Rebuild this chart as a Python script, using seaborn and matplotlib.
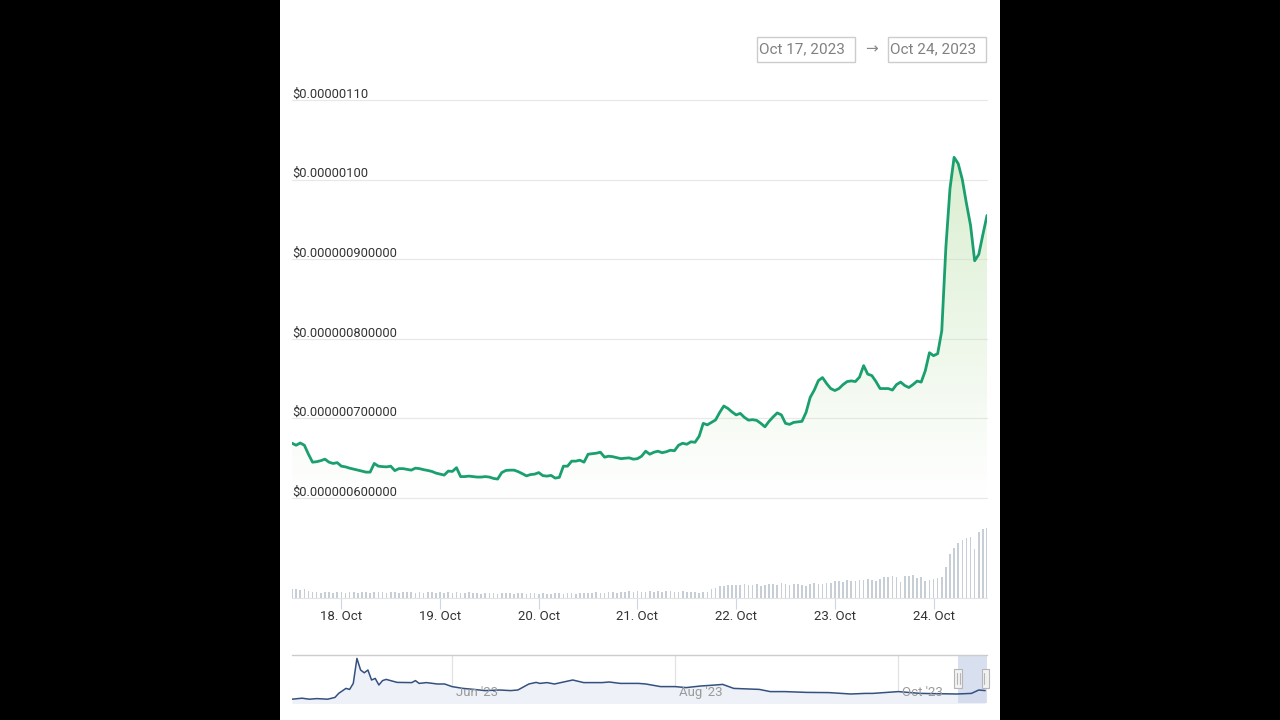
import numpy as np
import pandas as pd
import matplotlib
matplotlib.use('Agg')
import matplotlib.pyplot as plt
import matplotlib.dates as mdates
import seaborn as sns
from matplotlib.patches import Rectangle

# hourly price, in units of 1e-9 USD (Oct 17 12:00 -> Oct 24 13:00)
price_nano = [
    668.8, 666.3, 669.1, 666.3, 655.0, 645.0, 645.6, 646.9, 648.8, 645.0,
    643.4, 644.4, 640.0, 639.1, 637.5, 636.3, 635.0, 633.8, 632.5, 632.5,
    643.4, 640.0, 639.4, 639.1, 640.0, 634.4, 636.9, 636.9, 635.9, 635.0,
    637.5, 636.9, 635.6, 634.6, 633.4, 631.3, 630.0, 628.8, 633.8, 633.4,
    638.1, 626.9, 626.9, 627.5, 626.9, 626.3, 626.3, 626.9, 626.3, 624.6,
    623.8, 631.9, 634.6, 635.0, 635.0, 633.1, 630.6, 627.8, 629.4, 630.0,
    631.9, 628.1, 627.5, 628.4, 625.0, 625.9, 640.0, 640.0, 646.3, 646.3,
    647.5, 645.0, 655.0, 655.6, 656.3, 657.5, 651.3, 652.5, 651.9, 650.6,
    649.4, 650.0, 650.4, 648.8, 649.4, 652.5, 658.8, 655.0, 657.5, 658.8,
    656.9, 658.1, 660.0, 659.4, 666.3, 668.8, 667.5, 670.6, 670.0, 677.5,
    693.8, 691.9, 695.0, 698.1, 707.5, 715.6, 712.5, 708.1, 704.4, 706.3,
    701.3, 697.8, 698.4, 697.5, 693.8, 689.4, 696.3, 701.9, 706.9, 704.4,
    693.8, 692.5, 695.0, 695.6, 696.3, 707.5, 726.3, 735.6, 747.5, 751.3,
    743.8, 737.5, 735.0, 737.5, 742.5, 746.3, 747.1, 746.3, 751.9, 766.3,
    755.6, 753.8, 746.3, 737.5, 737.5, 737.5, 735.6, 742.5, 745.6, 741.3,
    738.8, 742.5, 746.9, 745.6, 760.0, 782.5, 778.8, 781.3, 810.0, 915.0,
    988.8, 1028.0, 1020.0, 1000.0, 970.0, 942.5, 898.0, 906.0, 931.0, 955.0,
]

# hourly volume (relative units)
volume = [
    9, 9, 8, 9, 7, 6, 6, 5, 6, 6, 5, 6,
    6, 5, 6, 6, 5, 6, 6, 5, 6, 6, 6, 5, 6, 6, 5, 6, 6, 6, 5, 6, 5, 6, 6, 5,
    6, 5, 6, 5, 6, 5, 5, 6, 5, 5, 4, 5, 5, 5, 4, 5, 5, 5, 4, 5, 5, 4, 5, 5,
    4, 5, 4, 4, 5, 5, 4, 5, 5, 4, 5, 5, 5, 5, 6, 5, 5, 6, 6, 5, 6, 6, 7, 6,
    7, 6, 6, 7, 6, 7, 6, 7, 7, 6, 6, 7, 6, 6, 6, 5, 6, 6, 9, 10, 12, 12, 13, 13,
    13, 13, 14, 13, 13, 14, 12, 13, 14, 14, 13, 15, 14, 13, 14, 14, 13, 12, 14, 15, 14, 14, 15, 15,
    17, 17, 16, 18, 17, 17, 18, 18, 19, 18, 17, 19, 21, 21, 22, 21, 16, 22, 22, 23, 20, 21, 17, 18,
    19, 20, 21, 31, 44, 50, 55, 58, 60, 61, 49, 66, 69, 70,
]

price_ticks = [0.6e-6, 0.7e-6, 0.8e-6, 0.9e-6, 1.0e-6, 1.1e-6]
price_labels = ['$0.000000600000', '$0.000000700000', '$0.000000800000',
                '$0.000000900000', '$0.00000100', '$0.00000110']
day_ticks = ['2023-10-18', '2023-10-19', '2023-10-20', '2023-10-21',
             '2023-10-22', '2023-10-23', '2023-10-24']
day_labels = ['18. Oct', '19. Oct', '20. Oct', '21. Oct', '22. Oct', '23. Oct', '24. Oct']

# navigator (long range) series, USD 1e-6 scale
nav_dates = ['2023-04-18 06:00', '2023-04-21', '2023-04-23', '2023-04-25', '2023-04-28',
             '2023-04-30', '2023-05-01', '2023-05-03', '2023-05-04', '2023-05-05',
             '2023-05-06', '2023-05-07', '2023-05-08', '2023-05-09', '2023-05-10',
             '2023-05-11', '2023-05-12', '2023-05-13', '2023-05-14', '2023-05-17',
             '2023-05-21', '2023-05-22', '2023-05-23', '2023-05-25', '2023-05-28',
             '2023-05-30', '2023-06-01', '2023-06-04', '2023-06-07', '2023-06-10',
             '2023-06-14', '2023-06-17', '2023-06-19', '2023-06-22', '2023-06-24',
             '2023-06-25', '2023-06-27', '2023-06-29', '2023-07-02', '2023-07-04',
             '2023-07-07', '2023-07-12', '2023-07-14', '2023-07-17', '2023-07-22',
             '2023-07-24', '2023-07-28', '2023-08-01', '2023-08-04', '2023-08-08',
             '2023-08-12', '2023-08-14', '2023-08-17', '2023-08-24', '2023-08-27',
             '2023-08-31', '2023-09-06', '2023-09-12', '2023-09-18', '2023-09-22',
             '2023-09-24', '2023-10-01', '2023-10-07', '2023-10-17', '2023-10-21',
             '2023-10-23', '2023-10-24 18:00']
nav_values = [0.34, 0.39, 0.34, 0.37, 0.34, 0.43, 0.63, 0.88, 0.83, 1.13,
              2.38, 1.80, 1.66, 1.80, 1.30, 1.38, 1.05, 1.27, 1.33, 1.18,
              1.17, 1.27, 1.13, 1.17, 1.10, 1.10, 0.97, 0.88, 0.83, 0.77,
              0.80, 0.77, 0.80, 1.10, 1.18, 1.13, 1.17, 1.10, 1.22, 1.30,
              1.17, 1.17, 1.20, 1.13, 1.13, 1.10, 0.97, 0.97, 0.92, 1.00,
              1.05, 1.08, 0.88, 0.83, 0.72, 0.72, 0.68, 0.67, 0.60, 0.63,
              0.63, 0.72, 0.63, 0.60, 0.63, 0.80, 0.77]
nav_month_ticks = ['2023-06-01', '2023-08-01', '2023-10-01']
nav_month_labels = ["Jun '23", "Aug '23", "Oct '23"]

sns.set_theme(style='white')
plt.rcParams['font.family'] = ['Roboto', 'DejaVu Sans']

W, H = 1280, 720
times = pd.date_range('2023-10-17 12:00', periods=len(price_nano), freq='h')
prices = np.array(price_nano) * 1e-9
df = pd.DataFrame({'time': times, 'price': prices, 'volume': volume})

fig = plt.figure(figsize=(12.8, 7.2), dpi=100, facecolor='black')
fig.patches.append(Rectangle((280 / W, 0), 720 / W, 1, transform=fig.transFigure,
                             facecolor='white', edgecolor='none', zorder=-10))

def fax(x0, y_top, x1, y_bot):
    return fig.add_axes([x0 / W, (H - y_bot) / H, (x1 - x0) / W, (y_bot - y_top) / H])

# --- price panel ---
ax = fax(292, 100, 987, 498)
ax.set_facecolor('none')
sns.lineplot(data=df, x='time', y='price', ax=ax, color='#1a9f6e', lw=2.0, zorder=4)

# gradient fill below the line
xnum = mdates.date2num(times)
fill = ax.fill_between(times, prices, 0.6e-6, facecolor='none', edgecolor='none')
grad = np.zeros((256, 1, 4))
grad[..., 0], grad[..., 1], grad[..., 2] = 0.78, 0.90, 0.72
grad[:, 0, 3] = np.linspace(0.0, 0.75, 256)
im = ax.imshow(grad, extent=[xnum[0], xnum[-1], 0.6e-6, 1.1e-6], origin='lower',
               aspect='auto', zorder=2, interpolation='bilinear')
im.set_clip_path(fill.get_paths()[0], transform=ax.transData)

ax.set_xlim(times[0], times[-1])
ax.set_ylim(0.6e-6, 1.1e-6)
for v, lab in zip(price_ticks, price_labels):
    ax.axhline(v, color='#e8e8e8', lw=0.9, zorder=1, clip_on=False)
    ax.annotate(lab, xy=(0, v), xycoords=('axes fraction', 'data'), xytext=(0, -0.5),
                textcoords='offset points', ha='left', va='bottom',
                fontsize=9.3, color='#333333', annotation_clip=False)
ax.set_xticks([])
ax.set_yticks([])
ax.set_xlabel('')
ax.set_ylabel('')
for s in ax.spines.values():
    s.set_visible(False)

# --- volume panel ---
axv = fax(292, 505, 987, 598)
axv.set_facecolor('none')
axv.bar(df['time'], df['volume'], width=0.4 / 24, color='#c8ced6', linewidth=0)
axv.set_xlim(times[0], times[-1])
axv.set_ylim(0, 93)
axv.set_yticks([])
axv.set_xticks(pd.to_datetime(day_ticks))
axv.set_xticklabels(day_labels)
axv.tick_params(axis='x', length=8, width=0.8, color='#ccd6eb', labelsize=9.5,
                labelcolor='#333333', pad=0.5, bottom=True)
for name, s in axv.spines.items():
    s.set_visible(name == 'bottom')
axv.spines['bottom'].set_color('#e3e3e3')
axv.spines['bottom'].set_linewidth(0.8)

# --- navigator ---
axn = fax(292, 655, 987, 703)
axn.set_facecolor('none')
nav_t = pd.to_datetime(nav_dates, format='mixed')
nav_df = pd.DataFrame({'date': nav_t, 'value': nav_values})
axn.fill_between(nav_t, nav_values, 0, color='#eef1f8', lw=0, zorder=1)
sns.lineplot(data=nav_df, x='date', y='value', ax=axn, color='#34507f', lw=1.1, zorder=3)
x_lo, x_hi = pd.Timestamp('2023-04-18 06:00'), pd.Timestamp('2023-10-25 06:00')
axn.set_xlim(x_lo, x_hi)
axn.set_ylim(0.15, 2.55)
for d, lab in zip(pd.to_datetime(nav_month_ticks), nav_month_labels):
    axn.axvline(d, color='#e2e2e2', lw=0.9, zorder=0)
    axn.annotate(lab, xy=(d, 0.08), xycoords=('data', 'axes fraction'), xytext=(3, 0),
                 textcoords='offset points', fontsize=9.5, color='#9a9a9a',
                 ha='left', va='bottom')
sel_lo = pd.Timestamp('2023-10-17 10:00')
axn.axvspan(sel_lo, x_hi, color='#ccd6eb', alpha=0.75, lw=0, zorder=2)
trans = axn.get_xaxis_transform()
hw = pd.Timedelta(hours=26)
for hx in [sel_lo, x_hi - pd.Timedelta(hours=10)]:
    axn.add_patch(Rectangle((mdates.date2num(hx - hw), 0.32), mdates.date2num(hx + hw) - mdates.date2num(hx - hw),
                            0.38, transform=trans, facecolor='#f2f2f2', edgecolor='#b5b5b5',
                            lw=0.8, zorder=5, clip_on=False))
    for off in [-8, 8]:
        xx = mdates.date2num(hx + pd.Timedelta(hours=off))
        axn.plot([xx, xx], [0.4, 0.62], transform=trans, color='#b5b5b5', lw=0.8, zorder=6)
axn.set_xticks([])
axn.set_yticks([])
axn.set_xlabel('')
axn.set_ylabel('')
for name, s in axn.spines.items():
    s.set_visible(name == 'top')
axn.spines['top'].set_color('#cccccc')
axn.spines['top'].set_linewidth(1.0)

# --- date range boxes ---
for x0, x1, txt in [(757, 855, 'Oct 17, 2023'), (888, 986, 'Oct 24, 2023')]:
    fig.patches.append(Rectangle((x0 / W, (H - 62) / H), (x1 - x0) / W, 25 / H,
                                 transform=fig.transFigure, facecolor='white',
                                 edgecolor='#cccccc', lw=1.0, zorder=1))
    fig.text((x0 + 2) / W, (H - 49.5) / H, txt, ha='left', va='center',
             fontsize=11, color='#808080')
fig.text(871 / W, (H - 49.5) / H, '→', ha='center', va='center', fontsize=11, color='#888888')

fig.savefig('out.png', dpi=100, facecolor='black')
